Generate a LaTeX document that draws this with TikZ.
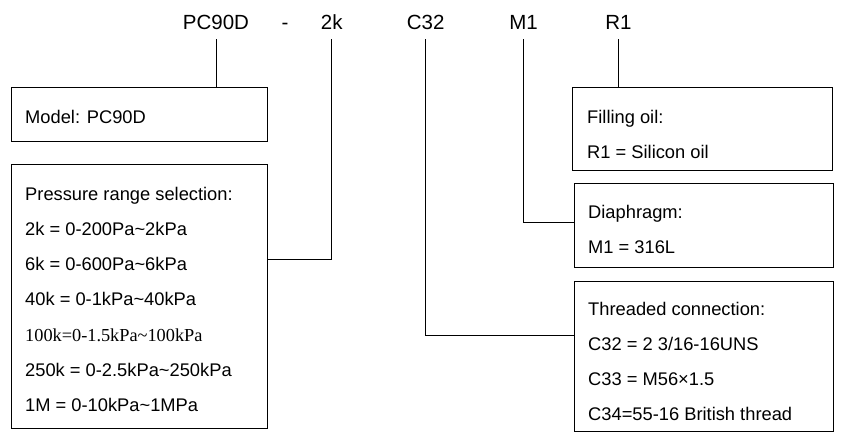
\documentclass[tikz,border=0pt]{standalone}
\usepackage{fontspec}
\setmainfont{Liberation Sans}
\newfontfamily\serifpart{Liberation Serif}
\begin{document}
\begin{tikzpicture}[x=1pt,y=-1pt,
  box/.style={draw=black,line width=1pt,rectangle,inner sep=0pt,anchor=north west},
  txt/.style={anchor=base west,inner sep=0pt,font=\fontsize{18.3}{22}\selectfont},
  code/.style={anchor=base,inner sep=0pt,font=\fontsize{20.5}{24}\selectfont},
  link/.style={draw=black,line width=1pt}]
\useasboundingbox[fill=white] (0,0) rectangle (843,439);
% top code labels
\node[code] (lPC) at (216,29.3) {PC90D};
\node[code] (lDash) at (285,29.3) {-};
\node[code] (l2k) at (331.7,29.3) {2k};
\node[code] (lC) at (425.7,29.3) {C32};
\node[code] (lM) at (523.5,29.3) {M1};
\node[code] (lR) at (618.5,29.3) {R1};
% boxes
\node[box,minimum width=256pt,minimum height=54pt] (mbox) at (10.5,87) {};
\node[box,minimum width=256pt,minimum height=264pt] (pbox) at (10.5,164) {};
\node[box,minimum width=260pt,minimum height=83pt] (fbox) at (572,87) {};
\node[box,minimum width=259pt,minimum height=84pt] (dbox) at (574,183) {};
\node[box,minimum width=259pt,minimum height=150pt] (tbox) at (574,281) {};
% texts
\node[txt] (m1) at (25,123.3) {Model: PC90D};
\node[txt] (p0) at (25,200) {Pressure range selection:};
\node[txt] (p1) at (25,235.2) {2k = 0-200Pa\textasciitilde2kPa};
\node[txt] (p2) at (25,270.4) {6k = 0-600Pa\textasciitilde6kPa};
\node[txt] (p3) at (25,305.7) {40k = 0-1kPa\textasciitilde40kPa};
\node[txt,font=\serifpart\fontsize{18.3}{22}\selectfont] (p4) at (25,341) {100k=0-1.5kPa\textasciitilde100kPa};
\node[txt] (p5) at (25,376) {250k = 0-2.5kPa\textasciitilde250kPa};
\node[txt] (p6) at (25,411) {1M = 0-10kPa\textasciitilde1MPa};
\node[txt] (f0) at (587,123.3) {Filling oil:};
\node[txt] (f1) at (587,158.3) {R1 = Silicon oil};
\node[txt] (d0) at (588,218.3) {Diaphragm:};
\node[txt] (d1) at (588,253.3) {M1 = 316L};
\node[txt] (c0) at (588,315.7) {Threaded connection:};
\node[txt] (c1) at (588,350.7) {C32 = 2 3/16-16UNS};
\node[txt] (c2) at (588,385.7) {C33 = M56×1.5};
\node[txt] (c3) at (588,420.7) {C34=55-16 British thread};
% connectors
\draw[link,shorten <=10pt] (lPC.base) -- (lPC.base |- mbox.north);
\draw[link,shorten <=10pt] (l2k.base) |- ([yshift=37pt]pbox.east);
\draw[link,shorten <=10pt] (lC.base) |- ([yshift=21pt]tbox.west);
\draw[link,shorten <=10pt] (lM.base) |- ([yshift=3pt]dbox.west);
\draw[link,shorten <=10pt] (lR.base) -- (lR.base |- fbox.north);
\end{tikzpicture}
\end{document}
